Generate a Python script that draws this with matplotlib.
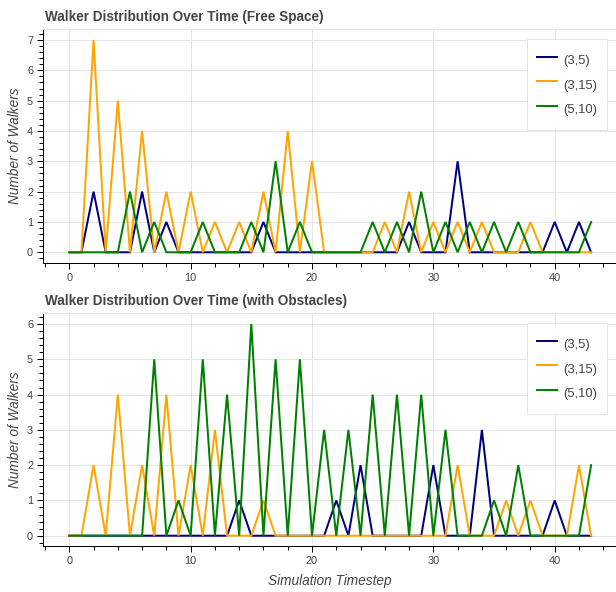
import matplotlib
matplotlib.use("Agg")
import matplotlib.pyplot as plt
from matplotlib.ticker import MultipleLocator

plt.rcParams['font.family'] = ['Liberation Sans', 'DejaVu Sans']

timesteps = list(range(44))
series_names = ["(3,5)", "(3,15)", "(5,10)"]
series_colors = ["navy", "orange", "green"]

free_3_5 = [0, 0, 2, 0, 0, 0, 2, 0, 1, 0, 0, 0, 0, 0, 0, 0, 1, 0, 0, 0, 0, 0,
            0, 0, 0, 0, 0, 0, 1, 0, 0, 0, 3, 0, 0, 0, 0, 0, 0, 0, 1, 0, 1, 0]
free_3_15 = [0, 0, 7, 0, 5, 0, 4, 0, 2, 0, 2, 0, 1, 0, 1, 0, 2, 0, 4, 0, 3, 0,
             0, 0, 0, 0, 1, 0, 2, 0, 1, 0, 1, 0, 1, 0, 0, 0, 1, 0, 0, 0, 0, 0]
free_5_10 = [0, 0, 0, 0, 0, 2, 0, 1, 0, 0, 0, 1, 0, 0, 0, 1, 0, 3, 0, 1, 0, 0,
             0, 0, 0, 1, 0, 1, 0, 2, 0, 1, 0, 1, 0, 1, 0, 1, 0, 0, 0, 0, 0, 1]

obs_3_5 = [0, 0, 0, 0, 0, 0, 0, 0, 0, 0, 0, 0, 0, 0, 1, 0, 0, 0, 0, 0, 0, 0,
           1, 0, 2, 0, 0, 0, 0, 0, 2, 0, 0, 0, 3, 0, 0, 0, 0, 0, 1, 0, 0, 0]
obs_3_15 = [0, 0, 2, 0, 4, 0, 2, 0, 4, 0, 2, 0, 3, 0, 0, 0, 1, 0, 0, 0, 0, 0,
            0, 0, 0, 0, 0, 0, 0, 0, 0, 0, 2, 0, 0, 0, 1, 0, 1, 0, 0, 0, 2, 0]
obs_5_10 = [0, 0, 0, 0, 0, 0, 0, 5, 0, 1, 0, 5, 0, 4, 0, 6, 0, 5, 0, 5, 0, 3,
            0, 3, 0, 4, 0, 4, 0, 4, 0, 3, 0, 0, 0, 1, 0, 2, 0, 0, 0, 0, 0, 2]

titles = ["Walker Distribution Over Time (Free Space)",
          "Walker Distribution Over Time (with Obstacles)"]
y_label = "Number of Walkers"
x_label = "Simulation Timestep"

W, H = 616, 592
fig = plt.figure(figsize=(W / 100, H / 100), dpi=100)

PX = 0.72  # points per pixel at 100 dpi
TXT = "#444444"
GRID = "#e5e5e5"


def frame(left, top, right, bottom):
    return [left / W, 1 - bottom / H, (right - left) / W, (bottom - top) / H]


panels = [
    (frame(43.2, 29.4, 617.2, 262.9), [free_3_5, free_3_15, free_5_10], 7, 16.5),
    (frame(43.2, 313.4, 617.2, 546.3), [obs_3_5, obs_3_15, obs_5_10], 6, 300.5),
]

for i, (pos, data, ymax, title_y) in enumerate(panels):
    ax = fig.add_axes(pos)
    for name, color, vals in zip(series_names, series_colors, data):
        ax.plot(timesteps, vals, color=color, lw=2 * PX, label=name,
                solid_joinstyle='miter')
    x0, x1 = min(timesteps), max(timesteps)
    px_ = 0.05 * (x1 - x0)
    ax.set_xlim(x0 - px_, x1 + px_)
    ax.set_ylim(-0.05 * ymax, ymax * 1.05)
    ax.xaxis.set_major_locator(MultipleLocator(10))
    ax.xaxis.set_minor_locator(MultipleLocator(2))
    ax.yaxis.set_major_locator(MultipleLocator(1))
    ax.yaxis.set_minor_locator(MultipleLocator(0.2))
    ax.grid(True, which='major', color=GRID, lw=1 * PX)
    ax.set_axisbelow(True)
    for s in ['top', 'right']:
        ax.spines[s].set_color(GRID)
        ax.spines[s].set_linewidth(1 * PX)
    for s in ['left', 'bottom']:
        ax.spines[s].set_color('black')
        ax.spines[s].set_linewidth(1 * PX)
    ax.tick_params(which='major', direction='out', length=6 * PX, width=1 * PX,
                   color='black', labelcolor=TXT, labelsize=11 * PX, pad=4 * PX)
    ax.tick_params(which='minor', direction='out', length=4 * PX, width=1 * PX,
                   color='black')
    leg = ax.legend(loc='upper right', fontsize=13 * PX, frameon=True,
                    fancybox=False, edgecolor=GRID, framealpha=0.95,
                    handlelength=1.54, handleheight=2.2, handletextpad=0.45,
                    borderpad=0.77, labelspacing=0.2, borderaxespad=0.77)
    leg.get_frame().set_linewidth(1 * PX)
    for t in leg.get_texts():
        t.set_color(TXT)
    fig.text(45 / W, 1 - title_y / H, titles[i], ha='left', va='center',
             fontsize=13.5 * PX, fontweight='bold', color=TXT)
    ymid = (pos[1] + pos[3] / 2)
    fig.text(15 / W, ymid, y_label, rotation=90, ha='center', va='center',
             fontsize=13.6 * PX, style='italic', color=TXT)
    if i == 1:
        fig.text((43.2 + 617.2) / 2 / W, 1 - 581 / H, x_label, ha='center',
                 va='center', fontsize=13.6 * PX, style='italic', color=TXT)

fig.savefig("out.png", dpi=100, facecolor='white')
